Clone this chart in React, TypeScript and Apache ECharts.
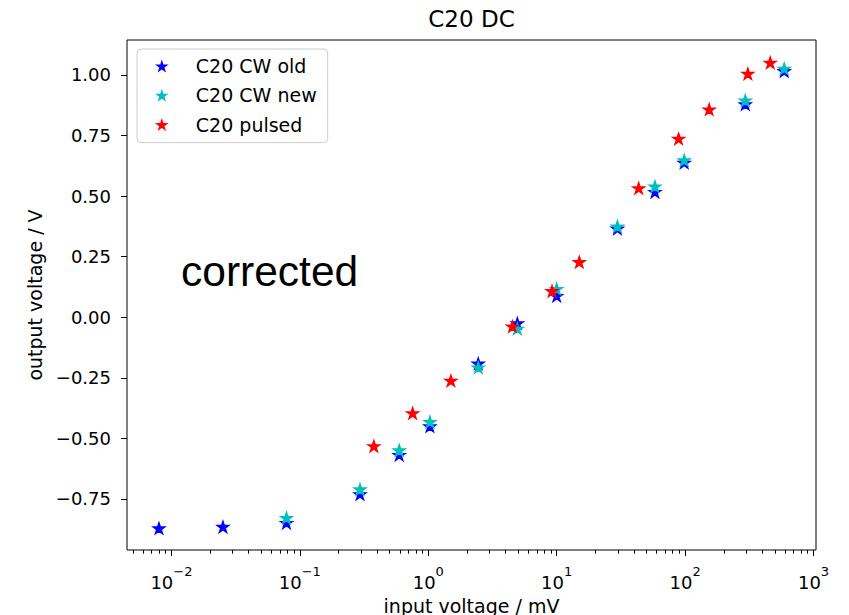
import React, { useEffect, useRef } from "react";
import * as echarts from "echarts";

// ---- data ----
const cwOldX = [0.008, 0.0252, 0.0787, 0.294, 0.594, 1.03, 2.45, 4.94, 10.0, 29.7, 58.2, 98.4, 294, 591];
const cwOldY = [-0.871, -0.865, -0.849, -0.73, -0.568, -0.45, -0.191, -0.025, 0.088, 0.366, 0.517, 0.638, 0.879, 1.016];

const cwNewX = [0.0787, 0.294, 0.594, 1.03, 2.45, 4.94, 10.0, 29.7, 58.2, 98.4, 294, 591];
const cwNewY = [-0.828, -0.71, -0.549, -0.432, -0.207, -0.047, 0.117, 0.375, 0.54, 0.648, 0.895, 1.026];

const pulsedX = [0.377, 0.755, 1.5, 4.52, 9.2, 15.0, 43.5, 89, 154, 308, 460];
const pulsedY = [-0.532, -0.396, -0.262, -0.038, 0.108, 0.228, 0.533, 0.737, 0.858, 1.005, 1.051];

const seriesNames = ["C20 CW old", "C20 CW new", "C20 pulsed"];
const seriesColors = ["#0000ff", "#00bfbf", "#ff0000"];

const xMajorTicks = [0.01, 0.1, 1, 10, 100, 1000];
const yTicks = [-0.75, -0.5, -0.25, 0, 0.25, 0.5, 0.75, 1.0];

const xMin = 0.00451;
const xMax = 1045;
const yMin = -0.9605;
const yMax = 1.1444;

const titleText = "C20 DC";
const xName = "input voltage / mV";
const yName = "output voltage / V";
const noteText = "corrected";

const minorMultipliers = [2, 3, 4, 5, 6, 7, 8, 9];
const minorDecades = [-3, -2, -1, 0, 1, 2];

const STAR =
  "path://M0,-1L0.2245,-0.309L0.951,-0.309L0.363,0.118L0.588,0.809L0,0.382L-0.588,0.809L-0.363,0.118L-0.951,-0.309L-0.2245,-0.309Z";

const FONT = "DejaVu Sans";

function zip(xs: number[], ys: number[]) {
  return xs.map((x, i) => [x, ys[i]]);
}

export default function App() {
  const ref = useRef<HTMLDivElement>(null);

  useEffect(() => {
    if (!ref.current) return;
    const chart = echarts.init(ref.current, undefined, { renderer: "svg" });

    const xMinorTicks: number[] = [];
    minorDecades.forEach((d) => {
      minorMultipliers.forEach((m) => {
        const v = m * Math.pow(10, d);
        if (v >= xMin && v <= xMax) xMinorTicks.push(v);
      });
    });

    const dataSets = [zip(cwOldX, cwOldY), zip(cwNewX, cwNewY), zip(pulsedX, pulsedY)];

    const option: any = {
      animation: false,
      backgroundColor: "#ffffff",
      grid: {
        left: 127,
        right: 33,
        top: 40,
        bottom: 65,
        show: true,
        borderColor: "#000000",
        borderWidth: 1,
        backgroundColor: "transparent",
        containLabel: false,
        outerBoundsMode: "none",
      },
      xAxis: [
        {
          type: "log",
          logBase: 10,
          min: xMin,
          max: xMax,
          gridIndex: 0,
          position: "bottom",
          axisLine: { show: false, onZero: false },
          splitLine: { show: false },
          axisTick: {
            show: true,
            length: 6,
            customValues: xMajorTicks,
            lineStyle: { color: "#000", width: 1 },
          },
          axisLabel: {
            show: true,
            margin: 15,
            customValues: xMajorTicks,
            formatter: (v: number) => {
              const e = Math.round(Math.log10(v));
              const s = e < 0 ? "\u2212" + -e : String(e);
              return `{b|10}{s|${s}}`;
            },
            rich: {
              b: { fontSize: 18, fontFamily: FONT, color: "#000", lineHeight: 26, verticalAlign: "bottom" },
              s: { fontSize: 13, fontFamily: FONT, color: "#000", lineHeight: 14, verticalAlign: "top" },
            },
          },
          name: xName,
          nameLocation: "middle",
          nameGap: 46,
          nameTextStyle: { fontSize: 19, fontFamily: FONT, color: "#000", lineHeight: 19 },
        },
        {
          type: "log",
          logBase: 10,
          min: xMin,
          max: xMax,
          gridIndex: 0,
          position: "bottom",
          axisLine: { show: false, onZero: false },
          splitLine: { show: false },
          axisLabel: { show: false },
          axisTick: {
            show: true,
            length: 3.7,
            customValues: xMinorTicks,
            lineStyle: { color: "#000", width: 1 },
          },
        },
      ],
      yAxis: {
        type: "value",
        min: yMin,
        max: yMax,
        axisLine: { show: false, onZero: false },
        splitLine: { show: false },
        axisTick: {
          show: true,
          length: 6,
          customValues: yTicks,
          lineStyle: { color: "#000", width: 1 },
        },
        axisLabel: {
          show: true,
          margin: 16,
          customValues: yTicks,
          fontSize: 18,
          fontFamily: FONT,
          color: "#000",
          formatter: (v: number) => v.toFixed(2).replace("-", "\u2212"),
        },
        name: yName,
        nameLocation: "middle",
        nameGap: 82,
        nameTextStyle: { fontSize: 19, fontFamily: FONT, color: "#000", lineHeight: 19 },
      },
      legend: {
        orient: "vertical",
        left: 137,
        top: 49,
        padding: [7, 11, 8, 18],
        itemGap: 9.3,
        itemWidth: 40,
        itemHeight: 13,
        symbolKeepAspect: true,
        itemStyle: { borderWidth: 0 },
        backgroundColor: "rgba(255,255,255,0.8)",
        borderColor: "#cccccc",
        borderWidth: 1,
        borderRadius: 4,
        textStyle: { fontSize: 19, fontFamily: FONT, color: "#000", lineHeight: 20, padding: [0, 0, 0, 9] },
        data: seriesNames.map((n) => ({ name: n, icon: STAR })),
      },
      graphic: [
        {
          type: "text",
          x: 471.5,
          y: 19.4,
          style: {
            text: titleText,
            fontSize: 23,
            fontFamily: FONT,
            fill: "#000",
            align: "center",
            verticalAlign: "middle",
          },
        },
        {
          type: "text",
          x: 181,
          y: 271,
          style: {
            text: noteText,
            fontSize: 42.5,
            fontFamily: "Liberation Sans",
            fill: "#000",
            align: "left",
            verticalAlign: "middle",
          },
        },
      ],
      series: dataSets.map((d, i) => ({
        type: "scatter",
        name: seriesNames[i],
        xAxisIndex: 0,
        yAxisIndex: 0,
        data: d,
        symbol: STAR,
        symbolSize: [11, 10.4],
        itemStyle: {
          color: seriesColors[i],
          opacity: 1,
          borderColor: seriesColors[i],
          borderWidth: 1.6,
          borderJoin: "miter",
        },
        emphasis: { disabled: true },
      })),
    };

    chart.setOption(option);
    return () => chart.dispose();
  }, []);

  return (
    <div
      ref={ref}
      style={{ position: "fixed", left: 0, top: 0, width: 849, height: 615, background: "#fff" }}
    />
  );
}
